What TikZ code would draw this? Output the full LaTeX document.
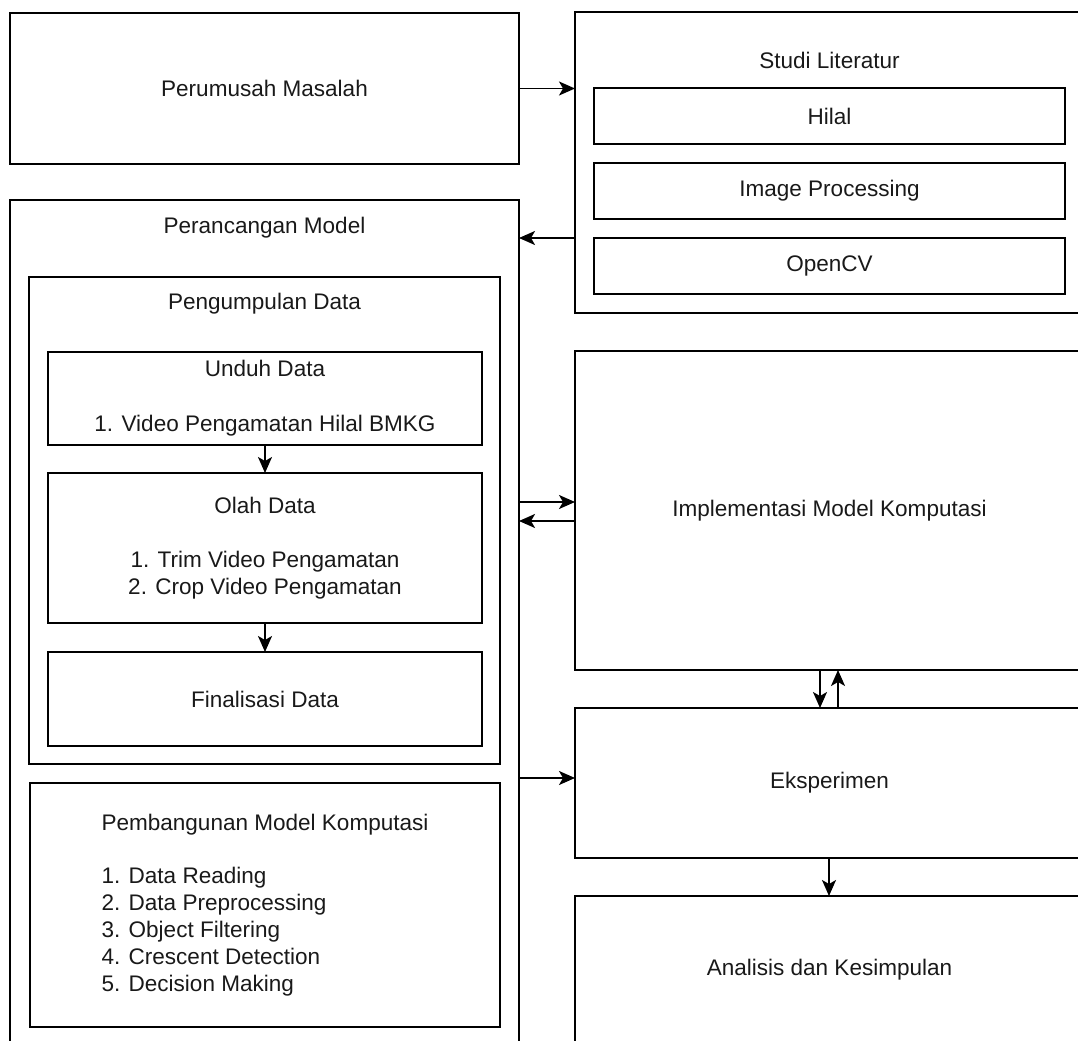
\documentclass[tikz,border=0pt]{standalone}
\usepackage{fontspec}
\setmainfont{Liberation Sans}
\usetikzlibrary{arrows.meta}
\begin{document}
\begin{tikzpicture}[x=0.75pt,y=-0.75pt,
  bx/.style={draw=black, line width=1.4pt, inner sep=0pt, outer sep=0pt, rectangle,
    font=\fontsize{16.9pt}{20.2pt}\selectfont, text=black!90, align=center},
  ttl/.style={inner sep=0pt, font=\fontsize{16.9pt}{20.2pt}\selectfont, text=black!90},
  arr/.style={line width=1.4pt, -{Stealth[length=12pt,width=10.5pt,inset=3pt]}}]
\useasboundingbox (0,0) rectangle (1078,1041);
\clip (0,0) rectangle (1078,1041);

% containers
\node[bx, minimum width=381.75pt, minimum height=113.25pt] (perumusah) at (264.5,88.5) {Perumusah Masalah};
\node[bx, minimum width=381.75pt, minimum height=225.75pt] (studi) at (829.5,162.5) {};
\node[ttl] (studiT) at (829.5,60) {Studi Literatur};
\node[bx, minimum width=353.25pt, minimum height=42pt] (hilal) at (829.5,116) {Hilal};
\node[bx, minimum width=353.25pt, minimum height=42pt] (imgproc) at (829.5,191) {Image Processing};
\node[bx, minimum width=353.25pt, minimum height=42pt] (opencv) at (829.5,266) {OpenCV};

\node[bx, minimum width=381.75pt, minimum height=645pt] (perancangan) at (264.5,630) {};
\node[ttl] (perancanganT) at (264.5,228) {Perancangan Model};
\node[bx, minimum width=353.25pt, minimum height=365.25pt] (pengumpulan) at (264.5,520.5) {};
\node[ttl] (pengumpulanT) at (264.5,304) {Pengumpulan Data};
\node[bx, minimum width=325.5pt, minimum height=69.75pt] (unduh) at (265,398.5) {Unduh Data\\[21pt]1. Video Pengamatan Hilal BMKG};
\node[bx, minimum width=325.5pt, minimum height=112.5pt] (olah) at (265,548) {Olah Data\\[20pt]1. Trim Video Pengamatan\\2. Crop Video Pengamatan};
\node[bx, minimum width=325.5pt, minimum height=70.5pt] (final) at (265,699) {Finalisasi Data};
\node[bx, align=left, minimum width=352.5pt, minimum height=183pt] (pembangunan) at (265,905) {Pembangunan Model Komputasi\\[20pt]1. Data Reading\\2. Data Preprocessing\\3. Object Filtering\\4. Crescent Detection\\5. Decision Making};

\node[bx, minimum width=381.75pt, minimum height=239.25pt] (impl) at (829.5,510.5) {Implementasi Model Komputasi};
\node[bx, minimum width=381.75pt, minimum height=112.5pt] (eksp) at (829.5,783) {Eksperimen};
\node[bx, minimum width=381.75pt, minimum height=111pt] (analisis) at (829.5,970) {Analisis dan Kesimpulan};

% connectors
\draw[arr] (perumusah.east) -- (studi.west |- perumusah.east);
\draw[arr] (opencv.north -| studi.west) -- (opencv.north -| perancangan.east);
\draw[arr] (unduh.south) -- (olah.north);
\draw[arr] (olah.south) -- (final.north);
\draw[arr] (perancangan.east |- 0,502) -- (impl.west |- 0,502);
\draw[arr] (impl.west |- 0,521) -- (perancangan.east |- 0,521);
\draw[arr] (perancangan.east |- 0,778) -- (eksp.west |- 0,778);
\draw[arr] (impl.south -| 820,0) -- (eksp.north -| 820,0);
\draw[arr] (eksp.north -| 838,0) -- (impl.south -| 838,0);
\draw[arr] (eksp.south -| 829,0) -- (analisis.north -| 829,0);
\end{tikzpicture}
\end{document}
